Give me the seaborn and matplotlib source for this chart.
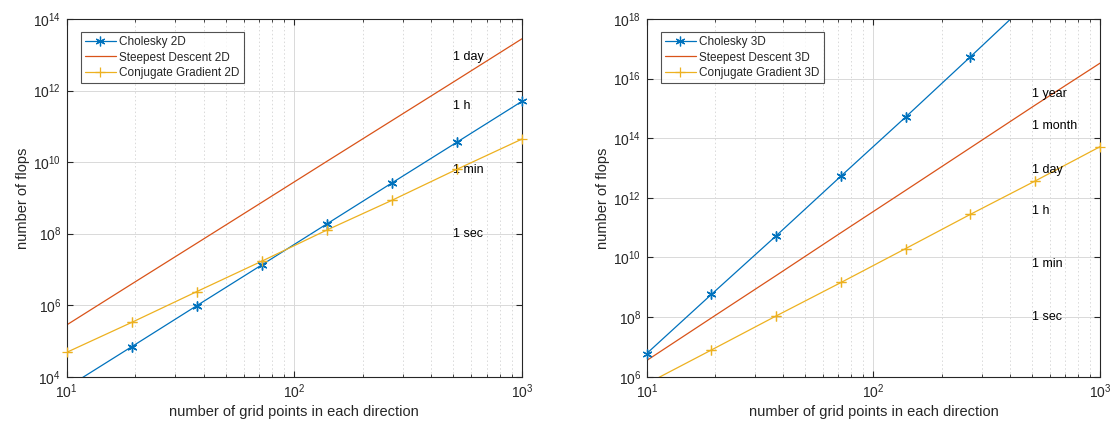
import numpy as np
import pandas as pd
import matplotlib
matplotlib.use("Agg")
import matplotlib.pyplot as plt
import seaborn as sns
from matplotlib.ticker import LogLocator, NullLocator, FuncFormatter

# ---------------- data ----------------
grid_points = [10, 19.3, 37.3, 72.0, 139, 268, 518, 1000]

cholesky_2d = [5.0e3, 6.9e4, 9.7e5, 1.34e7, 1.87e8, 2.6e9, 3.6e10, 5.0e11]
steepest_2d = [2.8e5, 3.9e6, 5.4e7, 7.5e8, 1.05e10, 1.44e11, 2.0e12, 2.8e13]
cg_2d = [4.8e4, 3.3e5, 2.4e6, 1.7e7, 1.26e8, 8.5e8, 6.3e9, 4.4e10]

cholesky_3d = [6.0e6, 5.8e8, 5.4e10, 5.4e12, 5.2e14, 5.4e16, 6.0e18, 6.0e20]
steepest_3d = [3.5e6, 9.4e7, 2.5e9, 6.8e10, 1.8e12, 4.8e13, 1.3e15, 3.3e16]
cg_3d = [5.8e5, 7.9e6, 1.1e8, 1.45e9, 2.0e10, 2.8e11, 3.7e12, 5.2e13]

time_labels_2d = ["1 sec", "1 min", "1 h", "1 day"]
time_flops_2d = [1e8, 6e9, 3.6e11, 8.64e12]
time_labels_3d = ["1 sec", "1 min", "1 h", "1 day", "1 month", "1 year"]
time_flops_3d = [1e8, 6e9, 3.6e11, 8.64e12, 2.6e14, 3.15e15]

series_names_2d = ["Cholesky 2D", "Steepest Descent 2D", "Conjugate Gradient 2D"]
series_names_3d = ["Cholesky 3D", "Steepest Descent 3D", "Conjugate Gradient 3D"]

# ---------------- style ----------------
sns.set_style("white")
plt.rcParams["font.family"] = ["Liberation Sans", "DejaVu Sans"]
plt.rcParams["mathtext.default"] = "regular"

colors = ["#0072BD", "#D95319", "#EDB120"]
markers = [(6, 2, 0), None, "+"]
frame_col = "#262626"


def pow_fmt(v, pos):
    e = int(round(np.log10(v)))
    return r"$10^{%d}$" % e


fig = plt.figure(figsize=(11.17, 4.26), dpi=100)
ax1 = fig.add_axes([0.0597, 0.1157, 0.4076, 0.8397])
ax2 = fig.add_axes([0.5790, 0.1157, 0.4058, 0.8397])


def draw(ax, names, ys, ylim, yticks, tlabels, tflops):
    for name, y, c, m in zip(names, ys, colors, markers):
        df = pd.DataFrame({"n": grid_points, "flops": y})
        if m is not None:
            kw = dict(marker=m, markersize=7, markeredgewidth=0.9,
                      markeredgecolor=c, markerfacecolor=c)
        else:
            kw = {}
        sns.lineplot(data=df, x="n", y="flops", ax=ax, color=c, lw=0.9,
                     label=name, **kw)
        if m is not None:
            inside = df[(df["flops"] >= ylim[0]) & (df["flops"] <= ylim[1])]
            sns.lineplot(data=inside, x="n", y="flops", ax=ax, color=c, lw=0,
                         legend=False, clip_on=False, zorder=5, **kw)
    ax.set_xscale("log")
    ax.set_yscale("log")
    ax.set_xlim(10, 1000)
    ax.set_ylim(*ylim)
    ax.set_yticks(yticks)
    ax.yaxis.set_minor_locator(NullLocator())
    ax.yaxis.set_major_formatter(FuncFormatter(pow_fmt))
    ax.set_xticks([10, 100, 1000])
    ax.xaxis.set_minor_locator(LogLocator(base=10, subs=np.arange(2, 10), numticks=20))
    ax.xaxis.set_major_formatter(FuncFormatter(pow_fmt))
    ax.grid(True, which="major", axis="both", color="#d9d9d9", lw=0.7, ls="-")
    ax.grid(True, which="minor", axis="x", color="#d9d9d9", lw=0.7, ls=(0, (1.5, 2.5)))
    ax.set_axisbelow(True)
    ax.tick_params(which="major", direction="in", length=4, width=0.8,
                   top=True, right=True, left=True, bottom=True,
                   labelsize=10, colors=frame_col, pad=4)
    ax.tick_params(which="minor", direction="in", length=2.2, width=0.6,
                   top=True, bottom=True, colors=frame_col)
    for s in ax.spines.values():
        s.set_color(frame_col)
        s.set_linewidth(0.8)
    ax.set_xlabel("number of grid points in each direction", fontsize=10.5,
                  color=frame_col, labelpad=3)
    ax.set_ylabel("number of flops", fontsize=10.5, color=frame_col, labelpad=2)
    for lab, fl in zip(tlabels, tflops):
        ax.text(500, fl, lab, fontsize=9, va="center", ha="left", color="black")
    leg = ax.legend(loc="upper left", bbox_to_anchor=(0.031, 0.964), borderaxespad=0,
                    fontsize=8.5, frameon=True, fancybox=False, handlelength=2.6,
                    handletextpad=0.3, borderpad=0.35, labelspacing=0.3)
    leg.get_frame().set_edgecolor(frame_col)
    leg.get_frame().set_linewidth(0.8)
    leg.set_zorder(10)


draw(ax1, series_names_2d, [cholesky_2d, steepest_2d, cg_2d], (1e4, 1e14),
     [1e4, 1e6, 1e8, 1e10, 1e12, 1e14], time_labels_2d, time_flops_2d)
draw(ax2, series_names_3d, [cholesky_3d, steepest_3d, cg_3d], (1e6, 1e18),
     [1e6, 1e8, 1e10, 1e12, 1e14, 1e16, 1e18], time_labels_3d, time_flops_3d)

fig.savefig("out.png", dpi=100)
